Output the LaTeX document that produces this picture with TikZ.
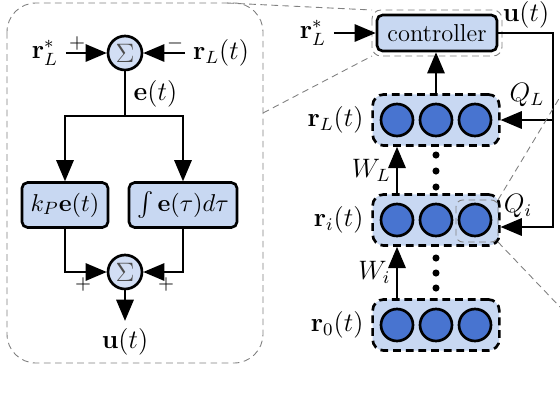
\documentclass[tikz,border=0pt]{standalone}
\usepackage{amsmath}
\usetikzlibrary{arrows,positioning}
\definecolor{boxblue}{RGB}{200,216,242}
\definecolor{sumblue}{RGB}{210,222,244}
\definecolor{cellblue}{RGB}{72,116,208}

\begin{document}
\begin{tikzpicture}[x=0.45pt,y=-0.45pt,
                    every node/.style={font=\large},
                    box/.style={draw,very thick,rounded corners=2.5pt,fill=boxblue,minimum height=20.2pt,inner sep=2pt,font=\fontsize{11.3}{13}\selectfont},
                    sum/.style={circle,draw,very thick,fill=sumblue,minimum size=15.3pt,inner sep=0pt,text=black!70,font=\large},
                    layer/.style={draw,very thick,dash pattern=on 3.5pt off 2.2pt,rounded corners=5pt,fill=boxblue,minimum width=57pt,minimum height=23pt},
                    cell/.style={circle,draw,very thick,fill=cellblue,minimum size=14.4pt,inner sep=0pt},
                    zoom/.style={draw=gray,thin,dash pattern=on 3pt off 2pt},
                    flow/.style={->,>=triangle 45,very thick},
                    sign/.style={font=\small,inner sep=0pt}]
\useasboundingbox (0,0) rectangle (560,400);

% PI controller
\draw[zoom,rounded corners=13pt] (7,3) rectangle (263,363);
\node[sum] (sum1) at (125,53) {$\Sigma$};
\node (rstar) at (45,53) {$\mathbf{r}_L^*$} edge[flow] (sum1);
\node (rmeas) at (221,53) {$\mathbf{r}_L(t)$} edge[flow] (sum1);
\node[sign] (plus1) at (77,43) {$+$};
\node[sign] (minus1) at (175,43) {$-$};
\coordinate (split) at (125,116);
\draw[very thick] (sum1) -- (split) node[midway,right] (err) {$\mathbf{e}(t)$};
\node[box,minimum width=38.7pt] (prop) at (65,205) {$k_P\mathbf{e}(t)$};
\node[box,minimum width=48.6pt] (integ) at (183,205) {$\int\mathbf{e}(\tau)d\tau$};
\draw[flow] (split) -| (prop);
\draw[flow] (split) -| (integ);
\node[sum] (sum2) at (125,272) {$\Sigma$};
\draw[flow] (prop) |- (sum2);
\draw[flow] (integ) |- (sum2);
\node[sign] (plus2) at (83,284) {$+$};
\node[sign] (plus3) at (166,284) {$+$};
\node (uout) at (125,342) {$\mathbf{u}(t)$};
\draw[flow] (sum2) -- (uout);

% network
\node[box,minimum width=54pt,minimum height=16.2pt,font=\fontsize{11}{13}\selectfont] (ctrl) at (437,33) {controller};
\draw[zoom,rounded corners=4pt] (372,10) rectangle (502,56);
\node (rstar2) at (313,33) {$\mathbf{r}_L^*$} edge[flow] (ctrl);
\node (uctrl) at (526,15) {$\mathbf{u}(t)$};

\foreach \lay/\y in {L/120,i/220,0/325} {
  \node[layer] (layer\lay) at (436,\y) {};
  \foreach \k/\dx in {1/-39,2/0,3/39}
    \node[cell] (cell\lay\k) at (436+\dx,\y) {};
  \node[left=0pt of layer\lay] (lbl\lay) {$\mathbf{r}_\lay(t)$};
}
\draw[flow] (layerL.north) -- (layerL.north |- ctrl.south);

\coordinate (fbtop) at (553,33);
\coordinate (fbbot) at (553,227);
\draw[flow] (ctrl.east) -- (fbtop) -- (fbbot) -- (fbbot -| layeri.east);
\draw[flow] (fbtop |- layerL) -- (layerL.east);
\node (QL) at (527,95) {$Q_L$};
\node (Qi) at (518,206) {$Q_i$};

\draw[flow] (layeri.north -| celli1) -- (layerL.south -| celli1) node[midway,left=-1pt] (WL) {$W_L$};
\draw[flow] (layer0.north -| cell01) -- (layeri.south -| cell01) node[midway,left=-1pt] (Wi) {$W_i$};
\foreach \y in {155,171,187,258,273,288}
  \fill (436,\y) circle (1.6pt);

% zoom marks
\draw[zoom,rounded corners=3pt] (456,200) rectangle (498,242);
\draw[zoom] (227,3) -- (372,10);
\draw[zoom] (263,113) -- (372,56);
\draw[zoom] (498,200) -- (560,97);
\draw[zoom] (498,242) -- (560,307);
\end{tikzpicture}
\end{document}
